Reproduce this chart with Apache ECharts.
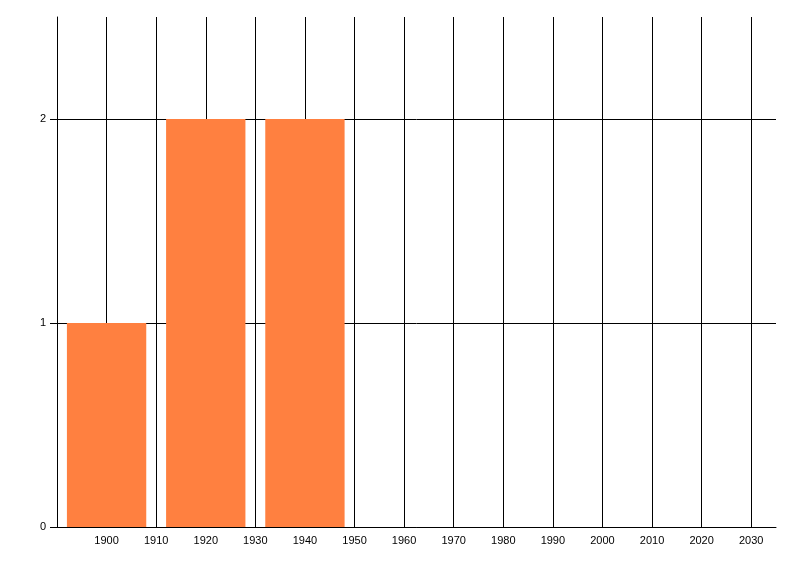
<!DOCTYPE html>
<html>
<head>
<meta charset="utf-8">
<script src="https://cdn.jsdelivr.net/npm/echarts@6/dist/echarts.min.js"></script>
<style>html,body{margin:0;padding:0;background:#fff}#c{width:800px;height:576px}</style>
</head>
<body>
<div id="c"></div>
<script>
var binCenters = [1900, 1920, 1940];
var counts = [1, 2, 2];
var binWidth = 16;
var xMin = 1890, xMax = 2035, xStep = 10;
var yMin = 0, yMax = 2.5, yStep = 1;
var yTicks = [0, 1, 2];

var chart = echarts.init(document.getElementById('c'), null, {renderer: 'canvas'});
var data = binCenters.map(function (c, i) { return [c, counts[i]]; });
var font = 'Liberation Sans';
chart.setOption({
  animation: false,
  backgroundColor: '#ffffff',
  grid: {left: 57, right: 24, top: 17, bottom: 49, containLabel: false},
  xAxis: {
    type: 'value', min: xMin, max: xMax, interval: xStep,
    axisLine: {show: true, lineStyle: {color: '#000', width: 1}},
    axisTick: {show: false},
    axisLabel: {color: '#000', fontSize: 11, fontFamily: font, margin: 8,
      showMinLabel: false, showMaxLabel: false,
      formatter: function (v) { return String(v); }},
    splitLine: {show: true, showMinLine: true, showMaxLine: false, lineStyle: {color: '#000', width: 1}}
  },
  yAxis: {
    type: 'value', min: yMin, max: yMax, interval: yStep,
    axisLine: {show: true, lineStyle: {color: '#000', width: 1}},
    axisTick: {show: true, length: 7, customValues: yTicks, lineStyle: {color: '#000'}},
    axisLabel: {color: '#000', fontSize: 11, fontFamily: font, margin: 11,
      customValues: yTicks, formatter: function (v) { return String(v); }},
    splitLine: {show: true, lineStyle: {color: ['#000', '#000', '#000', '#fff'], width: 1}}
  },
  series: [{
    type: 'custom',
    data: data,
    renderItem: function (params, api) {
      var x = api.value(0), y = api.value(1);
      var p1 = api.coord([x - binWidth / 2, y]);
      var p2 = api.coord([x + binWidth / 2, 0]);
      return {
        type: 'rect',
        shape: {x: p1[0], y: p1[1], width: p2[0] - p1[0], height: p2[1] - p1[1]},
        style: {fill: '#ff8040'}
      };
    },
    z: 3
  }]
});
</script>
</body>
</html>
